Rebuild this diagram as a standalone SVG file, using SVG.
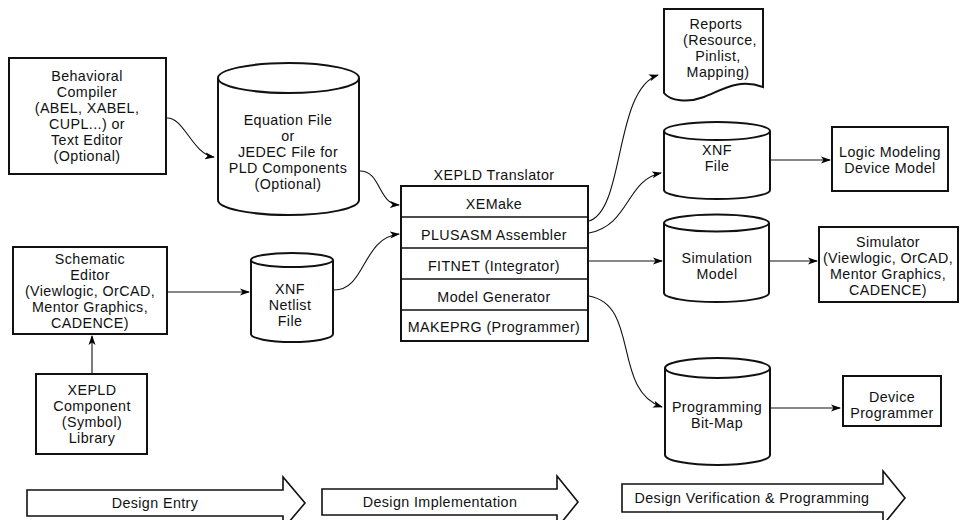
<svg xmlns="http://www.w3.org/2000/svg" width="960" height="520" viewBox="0 0 960 520">
<defs>
<marker id="ah" markerWidth="10" markerHeight="8" refX="9" refY="4" orient="auto" markerUnits="userSpaceOnUse">
<path d="M0,0.5 L10,4 L0,7.5 L2.5,4 Z" fill="#000"/>
</marker>
</defs>
<style>
text{font-family:"Liberation Sans",Arial,sans-serif;font-size:14.3px;letter-spacing:0.4px;fill:#111;text-anchor:middle}
.box{fill:#fff;stroke:#111;stroke-width:2}
.cyl{fill:#fff;stroke:#111;stroke-width:2}
.row{stroke:#111;stroke-width:1.3;fill:none}
.con{fill:none;stroke:#111;stroke-width:1.1;marker-end:url(#ah)}
.phase{fill:#fff;stroke:#111;stroke-width:1.6}
</style>
<rect width="960" height="520" fill="#fff"/>

<g id="behavioral">
<rect class="box" x="9" y="58" width="157" height="116"/>
<text x="87" y="80.5">Behavioral</text>
<text x="87" y="96.5">Compiler</text>
<text x="87" y="112.5">(ABEL, XABEL,</text>
<text x="87" y="128.5">CUPL...) or</text>
<text x="87" y="144.5">Text Editor</text>
<text x="87" y="160.5">(Optional)</text>
</g>

<g id="equation">
<path class="cyl" d="M218,78 L218,200 A70.5,15 0 0 0 359,200 L359,78"/>
<ellipse class="cyl" cx="288.5" cy="78" rx="70.5" ry="15"/>
<text x="288" y="124.5">Equation File</text>
<text x="288" y="140.5">or</text>
<text x="288" y="156.5">JEDEC File for</text>
<text x="288" y="172.5">PLD Components</text>
<text x="288" y="188.5">(Optional)</text>
</g>

<g id="schematic">
<rect class="box" x="13" y="247" width="154" height="87"/>
<text x="90" y="263.5">Schematic</text>
<text x="90" y="279.5">Editor</text>
<text x="90" y="295.5">(Viewlogic, OrCAD,</text>
<text x="90" y="311.5">Mentor Graphics,</text>
<text x="90" y="327.5">CADENCE)</text>
</g>

<g id="xnf-netlist">
<path class="cyl" d="M251,260 L251,334 A41,8 0 0 0 333,334 L333,260"/>
<ellipse class="cyl" cx="292" cy="260" rx="41" ry="7"/>
<text x="290" y="293.5">XNF</text>
<text x="290" y="309.5">Netlist</text>
<text x="290" y="325.5">File</text>
</g>

<g id="library">
<rect class="box" x="36" y="374" width="111" height="80"/>
<text x="92" y="395">XEPLD</text>
<text x="92" y="411">Component</text>
<text x="92" y="427">(Symbol)</text>
<text x="92" y="443">Library</text>
</g>

<g id="translator">
<text x="494" y="180">XEPLD Translator</text>
<rect class="box" x="401" y="186" width="187" height="155"/>
<line class="row" x1="401" y1="217" x2="588" y2="217"/>
<line class="row" x1="401" y1="248" x2="588" y2="248"/>
<line class="row" x1="401" y1="279" x2="588" y2="279"/>
<line class="row" x1="401" y1="310" x2="588" y2="310"/>
<text x="494" y="209">XEMake</text>
<text x="494" y="240">PLUSASM Assembler</text>
<text x="494" y="271">FITNET (Integrator)</text>
<text x="494" y="302">Model Generator</text>
<text x="494" y="332">MAKEPRG (Programmer)</text>
</g>

<g id="reports">
<path class="box" d="M664,9 L763,9 L763,87 C738,78 722,90 704,97 C688,103 670,101 664,93 Z"/>
<text x="716" y="29">Reports</text>
<text x="720" y="45">(Resource,</text>
<text x="718" y="61">Pinlist,</text>
<text x="718" y="77">Mapping)</text>
</g>

<g id="xnf-file">
<path class="cyl" d="M664,131 L664,190 A53,9 0 0 0 770,190 L770,131"/>
<ellipse class="cyl" cx="717" cy="131" rx="53" ry="9"/>
<text x="717" y="155">XNF</text>
<text x="717" y="171">File</text>
</g>

<g id="logic-modeling">
<rect class="box" x="832" y="127" width="116" height="64"/>
<text x="890" y="156.5">Logic Modeling</text>
<text x="890" y="172.5">Device Model</text>
</g>

<g id="simulation-model">
<path class="cyl" d="M664,223 L664,293 A52.5,9 0 0 0 769,293 L769,223"/>
<ellipse class="cyl" cx="716.5" cy="223" rx="52.5" ry="8.5"/>
<text x="717" y="262.5">Simulation</text>
<text x="717" y="278.5">Model</text>
</g>

<g id="simulator">
<rect class="box" x="819" y="227" width="139" height="75"/>
<text x="888" y="246.5">Simulator</text>
<text x="888" y="262.5">(Viewlogic, OrCAD,</text>
<text x="888" y="278.5">Mentor Graphics,</text>
<text x="888" y="294.5">CADENCE)</text>
</g>

<g id="bitmap">
<path class="cyl" d="M665,368 L665,455 A52.5,10 0 0 0 770,455 L770,368"/>
<ellipse class="cyl" cx="717.5" cy="368" rx="52.5" ry="10"/>
<text x="717" y="412">Programming</text>
<text x="717" y="428">Bit-Map</text>
</g>

<g id="device-programmer">
<rect class="box" x="843" y="376" width="98" height="50"/>
<text x="892" y="402">Device</text>
<text x="892" y="418">Programmer</text>
</g>

<g id="connectors">
<path class="con" d="M166,118 C184,116 192,154 214,157"/>
<path class="con" d="M360,171 C381,171 378,204 399,205"/>
<path class="con" d="M334,290 C366,290 362,238 399,234"/>
<path class="con" d="M167,292 L249,292"/>
<path class="con" d="M92,374 L92,336"/>
<path class="con" d="M589,221 C625,210 614,90 658,75"/>
<path class="con" d="M589,233 C630,225 626,180 661,173"/>
<path class="con" d="M589,261 L662,261"/>
<path class="con" d="M589,296 C640,305 612,390 662,407"/>
<path class="con" d="M770,160 L830,160"/>
<path class="con" d="M770,261 L817,261"/>
<path class="con" d="M771,408 L840,408"/>
</g>

<g id="phase-entry">
<polygon class="phase" points="27,490 283,490 283,477 305,503 283,529 283,516 27,516"/>
<text x="155" y="508">Design Entry</text>
</g>
<g id="phase-implementation">
<polygon class="phase" points="322,489 557,489 557,476 578,502 557,528 557,515 322,515"/>
<text x="440" y="507">Design Implementation</text>
</g>
<g id="phase-verification">
<polygon class="phase" points="622,484 883,484 883,471 905,498 883,525 883,512 622,512"/>
<text x="752" y="503">Design Verification &amp; Programming</text>
</g>
</svg>
